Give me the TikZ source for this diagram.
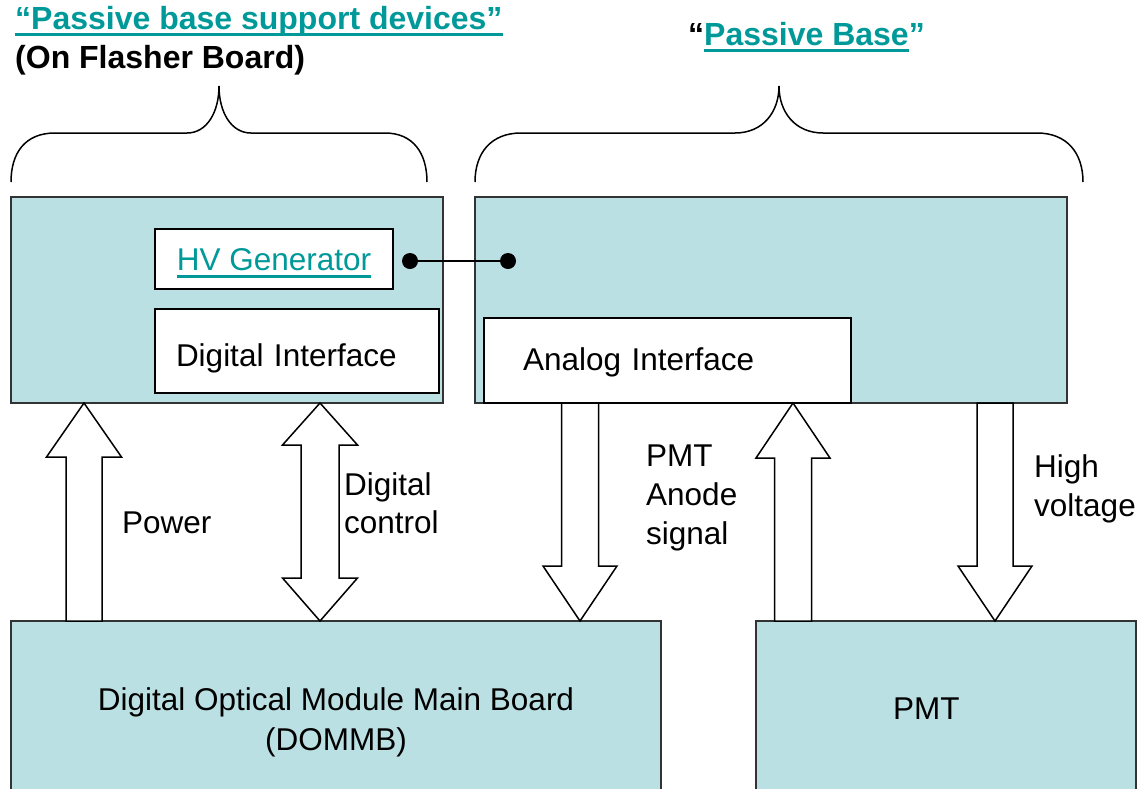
\documentclass[tikz,border=0pt]{standalone}
\usepackage{fontspec}
\setmainfont{Liberation Sans}
\usetikzlibrary{calc}

\definecolor{boardfill}{RGB}{187,224,227}
\definecolor{linkteal}{RGB}{0,153,153}

% underlined link text: #1 text, #2 rule depth below baseline, #3 rule thickness
\newcommand\linkul[3]{\setbox0\hbox{#1}\rlap{\color{linkteal}\rule[-#2]{\wd0}{#3}}\box0}

% single block arrow from tail #1 to tip #2 (vertical);
% #3 shaft half width, #4 head half width, #5 head length
\newcommand\blockarrow[5]{%
  \draw[blockarr] let \p1=(#1), \p2=(#2), \n1={sign(\y2-\y1)} in
    (\x1-#3pt,\y1) -- (\x1-#3pt,{\y2-(\n1)*#5pt}) -- (\x1-#4pt,{\y2-(\n1)*#5pt})
    -- (\x2,\y2)
    -- (\x1+#4pt,{\y2-(\n1)*#5pt}) -- (\x1+#3pt,{\y2-(\n1)*#5pt}) -- (\x1+#3pt,\y1) -- cycle;}

% double block arrow between #1 and #2 (vertical);
% #3 shaft half width, #4 head half width, #5/#6 head lengths at #1/#2
\newcommand\doublearrow[6]{%
  \draw[blockarr] let \p1=(#1), \p2=(#2), \n1={sign(\y2-\y1)} in
    (\x1,\y1) -- (\x1+#4pt,{\y1+(\n1)*#5pt}) -- (\x1+#3pt,{\y1+(\n1)*#5pt})
    -- (\x1+#3pt,{\y2-(\n1)*#6pt}) -- (\x1+#4pt,{\y2-(\n1)*#6pt})
    -- (\x2,\y2)
    -- (\x1-#4pt,{\y2-(\n1)*#6pt}) -- (\x1-#3pt,{\y2-(\n1)*#6pt})
    -- (\x1-#3pt,{\y1+(\n1)*#5pt}) -- (\x1-#4pt,{\y1+(\n1)*#5pt}) -- cycle;}

\begin{document}
\begin{tikzpicture}[x=1pt, y=-1pt,
  board/.style={draw=black!80, line width=1.6pt, fill=boardfill, anchor=north west,
                inner sep=0pt, outer sep=0pt},
  inbox/.style={draw=black, line width=1.6pt, fill=white, anchor=north west,
                outer sep=0pt, inner ysep=0pt, text depth=0pt},
  body/.style={font=\fontsize{31.5}{38.5}\selectfont},
  lbl/.style={body, align=left, anchor=west, inner sep=0pt},
  ttl/.style={font=\bfseries\fontsize{32}{38}\selectfont, anchor=base west, inner sep=0pt},
  blockarr/.style={draw=black, line width=1.5pt, fill=white, line join=miter},
  brace/.style={draw=black, line width=1.5pt},
  dot/.style={circle, fill=black, minimum size=16pt, inner sep=0pt, outer sep=0pt}]

\useasboundingbox (0,0) rectangle (1141,788);

% headings
\node[ttl, text=linkteal] (ttlsupport) at (15,29) {\linkul{“Passive base support devices”}{7pt}{3pt}};
\node[ttl] (ttlflasher) at (15,68) {(On Flasher Board)};
\node[ttl] (ttlbase) at (688,45) {“\linkul{\color{linkteal}Passive Base}{7pt}{3pt}”};

% curly braces over the two boards
\draw[brace] (11,182) .. controls (11,153) and (25,133) .. (55,133) -- (187,133)
  .. controls (207,133) and (219,112) .. (219,86)
  .. controls (219,112) and (231,133) .. (251,133) -- (385,133)
  .. controls (413,133) and (427,153) .. (427,182);
\draw[brace] (475,182) .. controls (475,153) and (491,133) .. (521,133) -- (735,133)
  .. controls (763,133) and (779,112) .. (779,86)
  .. controls (779,112) and (795,133) .. (823,133) -- (1037,133)
  .. controls (1067,133) and (1083,153) .. (1083,182);

% boards
\node[board, minimum width=432pt, minimum height=206pt] (flasher) at (11,197) {};
\node[board, minimum width=592pt, minimum height=206pt] (passive) at (475,197) {};
\node[board, minimum width=650pt, minimum height=203pt, align=center,
      font=\fontsize{31.5}{40}\selectfont] (dommb) at (11,621)
  {Digital Optical Module Main Board\\(DOMMB)};
\node[board, minimum width=380pt, minimum height=176pt, body, align=left,
      text width=106pt, inner xsep=137pt] (pmt) at (756,621) {PMT};

% blocks inside the boards
\node[inbox, minimum width=238pt, minimum height=60pt, inner xsep=0pt, body,
      text=linkteal, text height=23pt] (hvgen) at (155,229)
  {\linkul{HV Generator}{7pt}{2.2pt}};
\node[inbox, minimum width=284pt, minimum height=84pt, body, align=left,
      text width=242pt, inner xsep=21pt, text height=30pt] (digif) at (155,309) {Digital Interface};
\node[inbox, minimum width=367pt, minimum height=85pt, body, align=left,
      text width=289pt, inner xsep=39pt, text height=19pt] (anaif) at (484,318) {Analog Interface};

% HV link between the boards
\node[dot] (dotgen) at (410,261) {};
\node[dot] (dotbase) at (508,261) {};
\draw[line width=1.5pt] (dotgen) -- (dotbase);

% arrow columns
\coordinate (xpower) at (84,0);
\coordinate (xdig) at (320,0);
\coordinate (xanode) at (580,0);
\coordinate (xpmtup) at (793,0);
\coordinate (xhv) at (995,0);

\blockarrow{dommb.north -| xpower}{flasher.south -| xpower}{18}{37.5}{54}
\doublearrow{flasher.south -| xdig}{dommb.north -| xdig}{19}{37.5}{42}{43}
\blockarrow{anaif.south -| xanode}{dommb.north -| xanode}{18.5}{37}{55}
\blockarrow{pmt.north -| xpmtup}{anaif.south -| xpmtup}{18.5}{37}{55}
\blockarrow{passive.south -| xhv}{pmt.north -| xhv}{18}{37}{55}

% arrow labels
\node[lbl] (lpower) at (122,523) {Power};
\node[lbl] (ldig) at (344,503) {Digital\\control};
\node[lbl, font=\fontsize{31.5}{39}\selectfont] (lanode) at (646,498) {PMT\\Anode\\signal};
\node[lbl] (lhv) at (1034,489) {High\\voltage};

\end{tikzpicture}
\end{document}
